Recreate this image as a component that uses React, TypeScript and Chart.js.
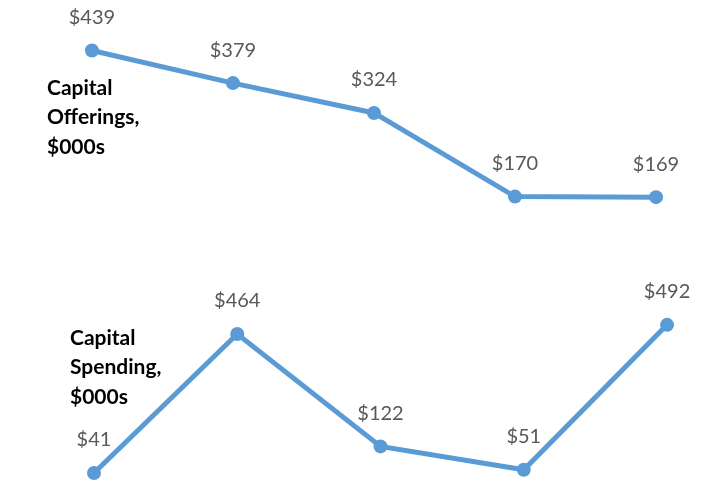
import React, { useEffect, useRef } from "react";
import { Chart, registerables } from "chart.js";

Chart.register(...registerables);

const periods = ["P1", "P2", "P3", "P4", "P5"];
const offerings = [439, 379, 324, 170, 169];
const spending = [41, 464, 122, 51, 492];
const offeringsTitle = ["Capital", "Offerings,", "$000s"];
const spendingTitle = ["Capital", "Spending,", "$000s"];

const BLUE = "#5B9BD5";
const FONT = "Lato, 'Open Sans', sans-serif";

const labelPlugin = {
  id: "valueLabels",
  afterDatasetsDraw(chart: any) {
    const ctx = chart.ctx;
    ctx.save();
    ctx.font = `20px ${FONT}`;
    ctx.fillStyle = "#595959";
    ctx.textAlign = "center";
    ctx.textBaseline = "middle";
    chart.data.datasets.forEach((ds: any, di: number) => {
      const meta = chart.getDatasetMeta(di);
      meta.data.forEach((pt: any, i: number) => {
        ctx.fillText("$" + ds.data[i].y, pt.x, pt.y - 33);
      });
    });
    ctx.font = `bold 21px ${FONT}`;
    ctx.fillStyle = "#000000";
    ctx.textAlign = "left";
    offeringsTitle.forEach((t, i) => ctx.fillText(t, 47, 88 + i * 29.5));
    spendingTitle.forEach((t, i) => ctx.fillText(t, 70, 338 + i * 29.5));
    ctx.restore();
  },
};

export default function App() {
  const ref = useRef<HTMLCanvasElement>(null);
  useEffect(() => {
    const chart = new Chart(ref.current!, {
      type: "line",
      data: {
        labels: periods,
        datasets: [
          {
            label: "Capital Offerings, $000s",
            data: offerings.map((v, i) => ({ x: i, y: v })),
            xAxisID: "x",
            yAxisID: "y",
            borderColor: BLUE,
            backgroundColor: BLUE,
            borderWidth: 5,
            pointRadius: 7,
            pointBorderWidth: 0,
            tension: 0,
          },
          {
            label: "Capital Spending, $000s",
            data: spending.map((v, i) => ({ x: i, y: v })),
            xAxisID: "x2",
            yAxisID: "y2",
            borderColor: BLUE,
            backgroundColor: BLUE,
            borderWidth: 5,
            pointRadius: 7,
            pointBorderWidth: 0,
            tension: 0,
          },
        ],
      },
      options: {
        animation: false,
        responsive: false,
        layout: { padding: 0, autoPadding: false },
        plugins: { legend: { display: false }, tooltip: { enabled: false } },
        scales: {
          x: { type: "linear", display: false, min: -0.652, max: 4.319 },
          x2: { type: "linear", display: false, min: -0.656, max: 4.237 },
          y: { type: "linear", display: false, min: -361, max: 532 },
          y2: { type: "linear", display: false, min: 4.6, max: 1480.5 },
        },
      },
      plugins: [labelPlugin],
    });
    return () => chart.destroy();
  }, []);
  return (
    <div style={{ position: "absolute", left: 0, top: 0, width: 701, height: 485, background: "#fff" }}>
      <canvas ref={ref} width={701} height={485} style={{ display: "block" }} />
    </div>
  );
}
